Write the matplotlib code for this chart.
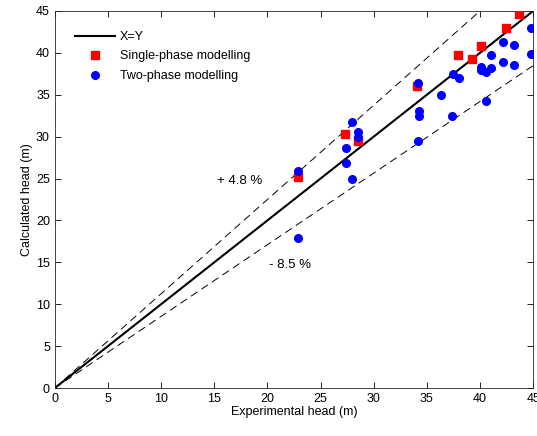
import matplotlib
matplotlib.use("Agg")
import matplotlib.pyplot as plt
import numpy as np

plt.rcParams["font.family"] = ["Liberation Sans", "DejaVu Sans"]

# single-phase modelling results
single_exp = [22.9, 27.3, 28.5, 34.1, 37.9, 39.2, 40.05, 42.4, 43.7]
single_calc = [25.2, 30.3, 29.5, 36.0, 39.7, 39.3, 40.8, 43.0, 44.6]

# two-phase modelling results
two_exp = [22.9, 22.9, 27.35, 27.35, 28.0, 28.0, 28.5, 28.5, 34.15, 34.3, 34.3, 34.15,
           36.35, 37.45, 37.4, 37.98, 40.05, 40.05, 40.55, 40.55, 41.05, 41.05,
           42.15, 42.15, 43.2, 43.2, 44.8, 44.8]
two_calc = [25.86, 17.9, 26.9, 28.6, 31.7, 25.0, 30.5, 29.95, 36.4, 33.05, 32.5, 29.5,
            35.0, 37.5, 32.5, 36.96, 38.35, 37.9, 37.7, 34.2, 39.7, 38.2,
            41.3, 38.9, 40.9, 38.5, 42.9, 39.85]

upper_slope = 1.125
lower_slope = 0.855
ticks = list(range(0, 50, 5))

fig = plt.figure(figsize=(5.37, 4.36), dpi=100)
ax = fig.add_axes([0.102, 0.110, 0.891, 0.865])

xx = np.array([0, 45])
ax.plot(xx, xx, color="black", linewidth=1.5, label="X=Y")
ax.plot(xx, upper_slope * xx, color="black", linewidth=0.7, linestyle=(0, (8, 5)))
ax.plot(xx, lower_slope * xx, color="black", linewidth=0.7, linestyle=(0, (8, 5)))
ax.plot(single_exp, single_calc, "s", color="red", markersize=6, linestyle="none",
        label="Single-phase modelling", zorder=3)
ax.plot(two_exp, two_calc, "o", color="blue", markersize=5.5, linestyle="none",
        label="Two-phase modelling", zorder=4)

ax.text(17.4, 24.7, "+ 4.8 %", fontsize=9.5, ha="center", va="center")
ax.text(22.1, 14.7, "- 8.5 %", fontsize=9.5, ha="center", va="center")

ax.set_xlim(0, 45)
ax.set_ylim(0, 45)
ax.set_xticks(ticks)
ax.set_yticks(ticks)
ax.tick_params(direction="in", top=True, right=True, labelsize=9, length=4, width=0.6)
for s in ax.spines.values():
    s.set_linewidth(0.6)
    s.set_color("#262626")
ax.set_xlabel("Experimental head (m)", fontsize=9, labelpad=1)
ax.set_ylabel("Calculated head (m)", fontsize=9, labelpad=2)

ax.legend(loc="upper left", frameon=False, fontsize=9, handlelength=3.2,
          borderaxespad=1.0, borderpad=0.6, labelspacing=0.6, handletextpad=0.4)

fig.savefig("out.png", dpi=100)
